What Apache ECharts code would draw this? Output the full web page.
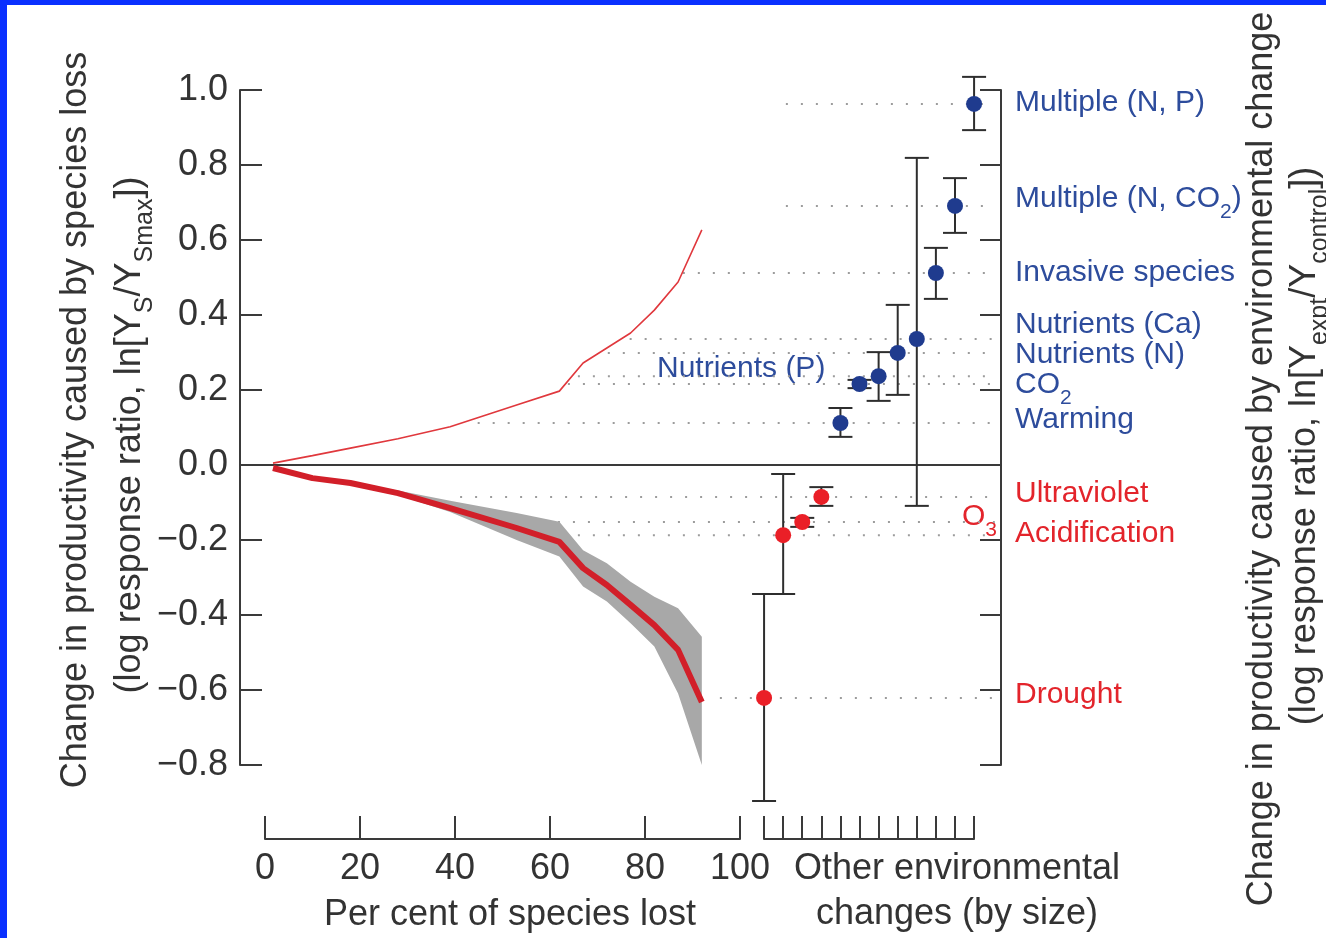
<!DOCTYPE html>
<html>
<head>
<meta charset="utf-8">
<script src="https://cdn.jsdelivr.net/npm/echarts@6/dist/echarts.min.js"></script>
<style>
  html, body { margin: 0; padding: 0; }
  #chart {
    width: 1326px;
    height: 938px;
    background: #fff;
    box-shadow: inset 7px 5px 0 0 #0a30ff;
  }
</style>
</head>
<body>
<div id="chart"></div>
<script>
// species loss curves, x = per cent of species lost
const lossX = [1.7, 10, 18, 28, 39, 53, 62, 67, 72, 77, 82, 87, 92];
const lossMean = [-0.008, -0.035, -0.048, -0.075, -0.115, -0.168, -0.205, -0.275, -0.32, -0.373, -0.427, -0.493, -0.632];
const lossMirror = [0.005, 0.025, 0.045, 0.07, 0.102, 0.16, 0.197, 0.272, 0.312, 0.352, 0.413, 0.488, 0.627];
const bandX = [18, 28, 39, 53, 62, 67, 72, 77, 82, 87, 92];
const bandUpper = [-0.048, -0.068, -0.095, -0.128, -0.151, -0.227, -0.262, -0.311, -0.351, -0.382, -0.458];
const bandLower = [-0.048, -0.08, -0.125, -0.2, -0.244, -0.324, -0.364, -0.422, -0.484, -0.609, -0.8];

// other environmental changes (ordered as on the axis)
const envNames = ["Drought", "Acidification", "O3", "Ultraviolet", "Warming", "Nutrients (P)", "CO2",
  "Nutrients (N)", "Nutrients (Ca)", "Invasive species", "Multiple (N, CO2)", "Multiple (N, P)"];
const envValue = [-0.621, -0.187, -0.152, -0.085, 0.112, 0.216, 0.237, 0.299, 0.336, 0.512, 0.691, 0.963];
const envLow = [-0.896, -0.344, -0.165, -0.109, 0.075, 0.205, 0.171, 0.187, -0.109, 0.443, 0.619, 0.893];
const envHigh = [-0.344, -0.024, -0.141, -0.059, 0.152, 0.227, 0.301, 0.427, 0.819, 0.579, 0.765, 1.035];
// where each dotted guide starts (per cent lost scale)
const guideStart = [95.8, 65.9, 61.7, 41.1, 44.8, 63.8, 65.9, 72.2, 76.8, 88, 109.7, 109.7];
const guideEnd = 153.7;

const FONT = "'Liberation Sans', Arial, sans-serif";
const AX = "#3a3a3a";
const RED = "#ea1f27";
const BLUE = "#1f3b8e";
const TXT_BLUE = "#2d4c9c";
const TXT_RED = "#e3242b";

function txt(x, y, text, color, size, extra) {
  const subSize = Math.round(size * 0.7);
  return Object.assign({
    type: "text",
    x: x,
    y: y,
    silent: true,
    style: {
      text: text,
      fill: color,
      fontSize: size,
      fontFamily: FONT,
      lineHeight: Math.round(size * 1.55),
      align: "left",
      verticalAlign: "middle",
      rich: {
        s: { fontSize: subSize, fontFamily: FONT, fill: color, lineHeight: subSize, verticalAlign: "bottom" },
      },
    },
  }, extra || {});
}
function vtxt(x, y, text) {
  const t = txt(x, y, text, "#333", 36, { rotation: Math.PI / 2 });
  t.style.align = "center";
  return t;
}
function ctxt(x, y, text) {
  const t = txt(x, y, text, "#333", 36);
  t.style.align = "center";
  return t;
}

const chart = echarts.init(document.getElementById("chart"));

const option = {
  animation: false,
  grid: [
    { left: 240, right: 325, top: 90, bottom: 173, outerBoundsMode: "none" },
    { left: 265, width: 475, top: 800, height: 39, outerBoundsMode: "none" },
    { left: 764, width: 210, top: 800, height: 39, outerBoundsMode: "none" },
  ],
  xAxis: [
    {
      gridIndex: 0, type: "value", min: -5.25, max: 155,
      axisLine: { onZero: true, lineStyle: { color: AX, width: 2 } },
      axisTick: { show: false }, axisLabel: { show: false }, splitLine: { show: false },
    },
    { gridIndex: 0, type: "value", min: -27.45, max: 12.41, show: false },
    {
      gridIndex: 1, type: "value", min: 0, max: 100, interval: 20, position: "bottom",
      axisLine: { onZero: false, lineStyle: { color: AX, width: 2 } },
      axisTick: { inside: true, length: 23, lineStyle: { color: AX, width: 2 } },
      axisLabel: { margin: 12, fontSize: 36, fontFamily: FONT, color: "#333" },
      splitLine: { show: false },
    },
    {
      gridIndex: 2, type: "value", min: 0, max: 11, interval: 1, position: "bottom",
      axisLine: { onZero: false, lineStyle: { color: AX, width: 2 } },
      axisTick: { inside: true, length: 23, lineStyle: { color: AX, width: 2 } },
      axisLabel: { show: false }, splitLine: { show: false },
    },
  ],
  yAxis: [
    {
      gridIndex: 0, type: "value", min: -0.8, max: 1.0, interval: 0.2, position: "left",
      axisLine: { show: true, onZero: false, lineStyle: { color: AX, width: 2 } },
      axisTick: { show: true, inside: true, length: 22, lineStyle: { color: AX, width: 2 } },
      axisLabel: {
        margin: 12, fontSize: 36, fontFamily: FONT, color: "#333",
        formatter: (v) => (Math.abs(v) < 1e-9 ? "0.0" : (v < 0 ? "\u2212" : "") + Math.abs(v).toFixed(1)),
      },
      splitLine: { show: false },
    },
    {
      gridIndex: 0, type: "value", min: -0.8, max: 1.0, interval: 0.2, position: "right",
      axisLine: { show: true, onZero: false, lineStyle: { color: AX, width: 2 } },
      axisTick: { show: true, inside: true, length: 21, lineStyle: { color: AX, width: 2 } },
      axisLabel: { show: false }, splitLine: { show: false },
    },
    { gridIndex: 1, type: "value", min: 0, max: 1, show: false },
    { gridIndex: 2, type: "value", min: 0, max: 1, show: false },
  ],
  series: [
    {
      // dotted guides from the curves to the right axis
      type: "custom", xAxisIndex: 0, yAxisIndex: 0, z: 1, silent: true,
      data: envValue.map((v, i) => [guideStart[i], guideEnd, v]),
      encode: { x: [0, 1], y: 2 },
      renderItem: (params, api) => {
        const a = api.coord([api.value(0), api.value(2)]);
        const b = api.coord([api.value(1), api.value(2)]);
        return {
          type: "line",
          shape: { x1: a[0], y1: a[1], x2: b[0], y2: b[1] },
          style: { stroke: "#9c9c9c", lineWidth: 2, lineDash: [2, 13] },
        };
      },
    },
    {
      // grey confidence band
      type: "custom", xAxisIndex: 0, yAxisIndex: 0, z: 2, silent: true,
      data: bandX.map((x, i) => [x, bandUpper[i], bandLower[i]]),
      encode: { x: 0, y: [1, 2] },
      renderItem: (params, api) => {
        if (params.dataIndex !== 0) return null;
        const pts = [];
        bandX.forEach((x, i) => pts.push(api.coord([x, bandUpper[i]])));
        for (let i = bandX.length - 1; i >= 0; i--) pts.push(api.coord([bandX[i], bandLower[i]]));
        return { type: "polygon", shape: { points: pts }, style: { fill: "#a8a8a8" } };
      },
    },
    {
      type: "line", xAxisIndex: 0, yAxisIndex: 0, z: 3, silent: true,
      data: lossX.map((x, i) => [x, lossMirror[i]]),
      symbol: "none", lineStyle: { color: "#e0383d", width: 1.6 },
    },
    {
      type: "line", xAxisIndex: 0, yAxisIndex: 0, z: 4, silent: true,
      data: lossX.map((x, i) => [x, lossMean[i]]),
      symbol: "none", lineStyle: { color: "#d21f29", width: 6 },
    },
    {
      // error bars
      type: "custom", xAxisIndex: 1, yAxisIndex: 0, z: 5, silent: true,
      data: envValue.map((v, i) => [i, envLow[i], envHigh[i]]),
      encode: { x: 0, y: [1, 2] },
      renderItem: (params, api) => {
        const lo = api.coord([api.value(0), api.value(1)]);
        const hi = api.coord([api.value(0), api.value(2)]);
        const w = 12;
        const st = { stroke: "#2e2e2e", lineWidth: 2 };
        return {
          type: "group",
          children: [
            { type: "line", shape: { x1: lo[0], y1: lo[1], x2: hi[0], y2: hi[1] }, style: st },
            { type: "line", shape: { x1: lo[0] - w, y1: lo[1], x2: lo[0] + w, y2: lo[1] }, style: st },
            { type: "line", shape: { x1: hi[0] - w, y1: hi[1], x2: hi[0] + w, y2: hi[1] }, style: st },
          ],
        };
      },
    },
    {
      type: "scatter", xAxisIndex: 1, yAxisIndex: 0, z: 6, silent: true,
      symbolSize: 16,
      data: envValue.map((v, i) => ({
        value: [i, v], name: envNames[i],
        itemStyle: { color: v < 0 ? RED : BLUE, opacity: 1 },
      })),
    },
  ],
  graphic: [
    vtxt(76, 420, "Change in productivity caused by species loss"),
    vtxt(130, 435, "(log response ratio, ln[Y{s|S}/Y{s|Smax}])"),
    vtxt(1262, 459, "Change in productivity caused by environmental change"),
    vtxt(1305, 446, "(log response ratio, ln[Y{s|expt}/Y{s|control}])"),
    ctxt(510, 915, "Per cent of species lost"),
    ctxt(957, 869, "Other environmental"),
    ctxt(957, 914, "changes (by size)"),
    txt(1015, 103, "Multiple (N, P)", TXT_BLUE, 30),
    txt(1015, 199, "Multiple (N, CO{s|2})", TXT_BLUE, 30),
    txt(1015, 273, "Invasive species", TXT_BLUE, 30),
    txt(1015, 325, "Nutrients (Ca)", TXT_BLUE, 30),
    txt(1015, 355, "Nutrients (N)", TXT_BLUE, 30),
    txt(1015, 385, "CO{s|2}", TXT_BLUE, 30),
    txt(1015, 420, "Warming", TXT_BLUE, 30),
    txt(657, 369, "Nutrients (P)", TXT_BLUE, 30),
    txt(1015, 494, "Ultraviolet", TXT_RED, 30),
    txt(1015, 534, "Acidification", TXT_RED, 30),
    txt(1015, 695, "Drought", TXT_RED, 30),
    txt(962, 517, "O{s|3}", TXT_RED, 30),
  ],
};

chart.setOption(option);
</script>
</body>
</html>
